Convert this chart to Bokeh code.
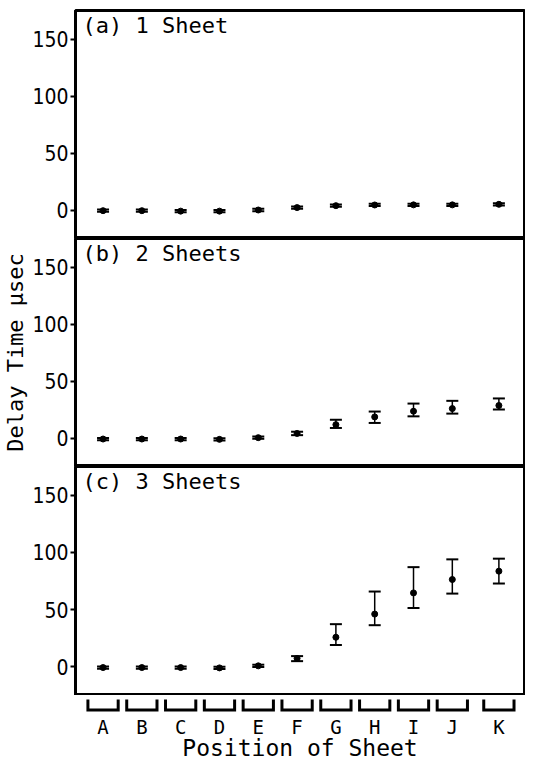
from bokeh.plotting import figure
from bokeh.models import ColumnDataSource, Whisker, TeeHead, Range1d, Label, FixedTicker
from bokeh.layouts import column
from bokeh.embed import file_html
from bokeh.resources import INLINE
from bokeh.core.properties import value

# ---------------- data ----------------
categories = ["A", "B", "C", "D", "E", "F", "G", "H", "I", "J", "K"]
positions = [0, 1, 2, 3, 4, 5, 6, 7, 8, 9, 10.2]

panel_titles = ["(a) 1 Sheet", "(b) 2 Sheets", "(c) 3 Sheets"]

sheet1_delay = [-0.6, -0.6, -1.0, -1.0, 0.0, 2.1, 3.8, 4.4, 4.5, 4.5, 5.0]
sheet1_lower = [-1.6, -1.6, -2.0, -2.0, -1.0, 1.1, 2.8, 3.4, 3.5, 3.5, 4.0]
sheet1_upper = [0.4, 0.4, 0.0, 0.0, 1.0, 3.1, 4.8, 5.4, 5.5, 5.5, 6.0]

sheet2_delay = [-0.9, -0.9, -0.9, -1.2, 0.3, 4.0, 11.7, 18.5, 23.5, 25.8, 28.5]
sheet2_lower = [-1.9, -1.9, -1.9, -2.2, -0.7, 2.5, 8.8, 13.2, 19.0, 21.4, 25.0]
sheet2_upper = [0.1, 0.1, 0.1, -0.2, 1.3, 5.5, 16.0, 23.2, 30.2, 32.6, 34.7]

sheet3_delay = [-0.6, -0.6, -0.6, -0.9, 0.9, 7.4, 25.9, 46.1, 64.6, 76.3, 83.6]
sheet3_lower = [-1.6, -1.6, -1.6, -1.9, -0.1, 5.0, 19.1, 36.4, 51.4, 64.0, 72.8]
sheet3_upper = [0.4, 0.4, 0.4, 0.1, 1.9, 9.4, 37.3, 65.8, 87.1, 93.9, 94.5]

y_ticks = [0, 50, 100, 150]

# ---------------- layout constants ----------------
XMIN, XMAX = -0.71, 10.86
YMIN, YMAX = -25, 175
W = 525
LEFT = 65
RIGHT = 1
MONO = "DejaVu Sans Mono"
NARROW = "Liberation Sans Narrow, DejaVu Sans Condensed, sans-serif"

series = [
    (sheet1_delay, sheet1_lower, sheet1_upper),
    (sheet2_delay, sheet2_lower, sheet2_upper),
    (sheet3_delay, sheet3_lower, sheet3_upper),
]
heights = [238, 228, 229]
tops = [10, 0, 0]

x_range = Range1d(XMIN, XMAX)
figs = []
for i, ((d, lo, up), h, t) in enumerate(zip(series, heights, tops)):
    p = figure(width=W, height=h, x_range=x_range, y_range=Range1d(YMIN, YMAX),
               x_axis_location=None, y_axis_location="left",
               output_backend="svg", toolbar_location=None,
               min_border_left=LEFT, min_border_right=RIGHT,
               min_border_top=t, min_border_bottom=0)
    p.grid.visible = False
    p.outline_line_color = "black"
    p.outline_line_width = 3
    p.background_fill_color = "white"
    p.border_fill_color = "white"
    ax = p.yaxis[0]
    ax.ticker = FixedTicker(ticks=y_ticks)
    ax.axis_line_width = 3
    ax.axis_line_color = "black"
    ax.major_tick_out = 5
    ax.major_tick_in = 0
    ax.major_tick_line_width = 2
    ax.minor_tick_line_color = None
    ax.major_label_standoff = 2
    ax.major_label_text_font = NARROW
    ax.major_label_text_font_size = "21px"
    ax.major_label_text_color = "black"
    if i == 1:
        ax.axis_label = "Delay Time \u03bcsec"
        ax.axis_label_text_font = MONO
        ax.axis_label_text_font_size = "22px"
        ax.axis_label_text_font_style = "normal"
        ax.axis_label_standoff = 1
        ax.axis_label_text_color = "black"

    src = ColumnDataSource(dict(x=positions, y=d, lower=lo, upper=up))
    wh = Whisker(source=src, base="x", lower="lower", upper="upper",
                 dimension="height", line_width=1.5, line_color="black",
                 upper_head=TeeHead(size=12, line_width=2, line_color="black"),
                 lower_head=TeeHead(size=12, line_width=2, line_color="black"))
    p.add_layout(wh)
    p.scatter("x", "y", source=src, size=6, color="black", marker="circle")

    p.add_layout(Label(x=XMIN + 0.18, y=YMAX - 2, text=panel_titles[i],
                       text_font=MONO, text_font_size="22px",
                       text_baseline="top", text_align="left", text_color="black"))
    figs.append(p)

# ---------------- category axis with bracket ticks ----------------
DH = 65
pd_ = figure(width=W, height=DH, x_range=x_range, y_range=Range1d(DH, 0),
             x_axis_location=None, y_axis_location=None,
             output_backend="svg", toolbar_location=None,
             min_border_left=LEFT, min_border_right=RIGHT,
             min_border_top=0, min_border_bottom=0)
pd_.grid.visible = False
pd_.outline_line_color = None
HW = 0.39
xs = [[x - HW, x - HW, x + HW, x + HW] for x in positions]
ys = [[4, 14.5, 14.5, 4] for _ in positions]
pd_.multi_line(xs, ys, line_width=3, line_color="black", line_join="miter")
pd_.text(x=positions, y=[31] * len(positions), text=categories,
         text_font=value(MONO), text_font_size=value("19px"),
         text_align="center", text_baseline="middle", text_color="black")
pd_.text(x=[(XMIN + XMAX) / 2], y=[52], text=["Position of Sheet"],
         text_font=value(MONO), text_font_size=value("23px"),
         text_align="center", text_baseline="middle", text_color="black")
figs.append(pd_)

layout = column(*figs, spacing=0)
open("out.html", "w").write(file_html(layout, INLINE))
